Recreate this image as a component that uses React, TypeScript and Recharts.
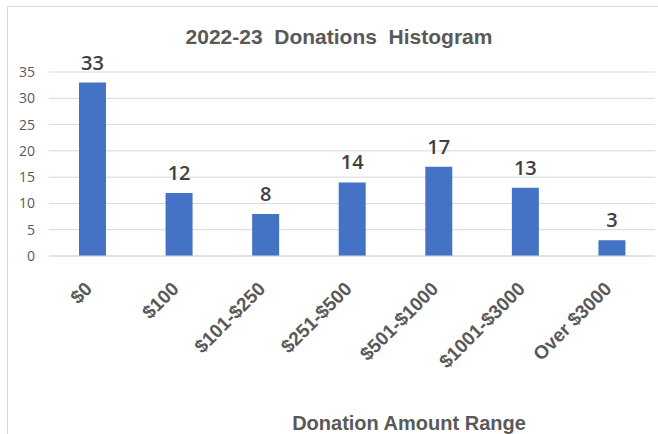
import { BarChart, Bar, XAxis, YAxis, CartesianGrid, LabelList } from 'recharts';

const ranges = ['$0', '$100', '$101-$250', '$251-$500', '$501-$1000', '$1001-$3000', 'Over $3000'];
const donors = [33, 12, 8, 14, 17, 13, 3];
const yTicks = [0, 5, 10, 15, 20, 25, 30, 35];

const chartTitle = '2022-23  Donations  Histogram';
const xTitle = 'Donation Amount Range';

const data = ranges.map((range, i) => ({ range, donors: donors[i] }));

const AngledTick = ({ x, y, payload }: any) => (
    <g transform={`translate(${x + 1},${y + 26})`}>
        <text
            textAnchor="end"
            transform="rotate(-45)"
            fill="#595959"
            fontSize={19}
            fontWeight="bold"
            fontFamily="'Liberation Sans', Arial, sans-serif"
        >
            {payload.value}
        </text>
    </g>
);

export default function App() {
    return (
        <div style={{ position: 'absolute', left: 0, top: 0, width: 658, height: 434, background: '#fff', overflow: 'hidden' }}>
            <div
                style={{
                    position: 'absolute',
                    left: 7,
                    top: 6,
                    width: 680,
                    height: 460,
                    border: '1px solid #d9d9d9',
                }}
            />
            <BarChart
                width={658}
                height={434}
                data={data}
                margin={{ top: 72, right: 3, bottom: 0, left: 0 }}
                style={{ position: 'absolute', left: 0, top: 0 }}
            >
                <CartesianGrid vertical={false} stroke="#d9d9d9" />
                <XAxis
                    dataKey="range"
                    interval={0}
                    height={178}
                    tickLine={false}
                    axisLine={{ stroke: '#d9d9d9' }}
                    tick={<AngledTick />}
                />
                <YAxis
                    width={49}
                    domain={[0, 35]}
                    ticks={yTicks}
                    tickLine={false}
                    axisLine={false}
                    tickMargin={8}
                    tick={{ fill: '#595959', fontSize: 14, fontFamily: "'Open Sans', sans-serif" }}
                />
                <Bar dataKey="donors" fill="#4472c4" barSize={27} isAnimationActive={false}>
                    <LabelList
                        dataKey="donors"
                        position="top"
                        offset={13}
                        fill="#404040"
                        fontSize={20}
                        fontWeight={600}
                        fontFamily="'Open Sans', sans-serif"
                    />
                </Bar>
            </BarChart>
            <svg width={658} height={434} style={{ position: 'absolute', left: 0, top: 0, pointerEvents: 'none' }}>
                <text
                    x={339}
                    y={44}
                    textAnchor="middle"
                    fill="#595959"
                    fontSize={21}
                    fontWeight="bold"
                    fontFamily="'Liberation Sans', Arial, sans-serif"
                    style={{ whiteSpace: 'pre' }}
                >
                    {chartTitle}
                </text>
                <text
                    x={409}
                    y={430}
                    textAnchor="middle"
                    fill="#595959"
                    fontSize={20}
                    fontWeight="bold"
                    fontFamily="'Liberation Sans', Arial, sans-serif"
                >
                    {xTitle}
                </text>
            </svg>
        </div>
    );
}
